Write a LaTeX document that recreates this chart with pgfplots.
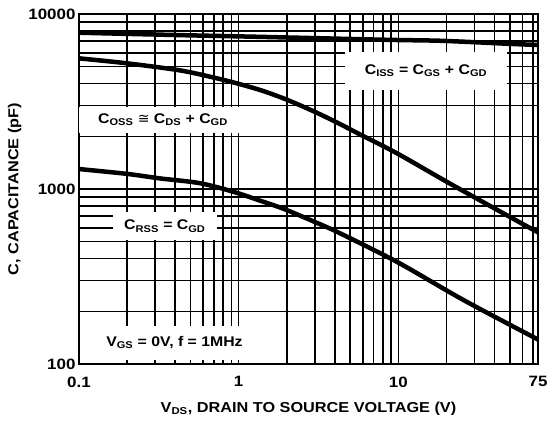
\documentclass[border=0pt]{standalone}
\usepackage{fontspec}
\setmainfont{Liberation Sans}[FakeStretch=1.13]
\newfontfamily\symfont{DejaVu Sans}
\usepackage{pgfplots}
\pgfplotsset{compat=1.18}
\newcommand{\lblfont}{\fontsize{14}{16}\selectfont\bfseries}
\newcommand{\tickfont}{\fontsize{15}{17}\selectfont\bfseries}
\newcommand{\axfont}{\fontsize{14.4}{16}\selectfont\bfseries}
\begin{document}
\begin{tikzpicture}
\begin{axis}[name=ax,
 xmode=log, ymode=log,
 scale only axis, width=459pt, height=350pt,
 xmin=0.1, xmax=75, ymin=100, ymax=10000,
 xtick={0.1,1,10,75}, xticklabels={0.1,1,10,75},
 ytick={100,1000,10000}, yticklabels={100,1000,10000},
 minor xtick={0.2,0.3,0.4,0.5,0.6,0.7,0.8,0.9,2,3,4,5,6,7,8,9,20,30,40,50,60,70},
 minor ytick={200,300,400,500,600,700,800,900,2000,3000,4000,5000,6000,7000,8000,9000},
 grid=both,
 major grid style={black, line width=1.6pt},
 minor grid style={black, line width=1.6pt},
 axis line style={black, line width=2pt},
 tick style={black, line width=1.6pt},
 major tick length=4pt, minor tick length=4pt,
 tick align=inside,
 ticklabel style={font=\tickfont},
 xticklabel style={yshift=-9pt},
 label style={font=\axfont},
 xlabel={V\textsubscript{DS}, DRAIN TO SOURCE VOLTAGE (V)},
 ylabel={C, CAPACITANCE (pF)},
 xlabel style={yshift=-8pt},
]
% C_ISS
\addplot[black, line width=4.5pt, smooth] coordinates {
 (0.1,7820) (0.2,7700) (0.5,7550) (1,7450) (1.8,7360) (5,7200) (10,7100) (17.5,7040) (30,6900) (50,6750) (75,6650)};
% C_OSS
\addplot[black, line width=4.5pt, smooth] coordinates {
 (0.1,5580) (0.2,5225) (0.43,4760) (0.7,4330) (0.97,4020) (1.4,3650) (2,3240) (3,2760) (4.2,2380) (5.7,2060) (9.8,1600) (20.1,1100) (40,775) (75,565)};
% C_RSS
\addplot[black, line width=4.5pt, smooth] coordinates {
 (0.1,1300) (0.2,1220) (0.32,1150) (0.57,1080) (0.92,966) (1.4,850) (2.0,758) (3.9,584) (5,523) (10.2,376) (25.6,232) (75,138)};
\node[fill=white, inner sep=0pt, minimum width=162pt, minimum height=38pt, font=\lblfont] at (rel axis cs:0.756,0.837) {C\textsubscript{ISS} = C\textsubscript{GS} + C\textsubscript{GD}};
\node[fill=white, inner sep=0pt, minimum width=168pt, minimum height=26pt, font=\lblfont] at (rel axis cs:0.183,0.697) {C\textsubscript{OSS} {\symfont\mdseries ≅} C\textsubscript{DS} + C\textsubscript{GD}};
\node[fill=white, inner sep=0pt, minimum width=104pt, minimum height=28pt, font=\lblfont] at (rel axis cs:0.187,0.394) {C\textsubscript{RSS} = C\textsubscript{GD}};
\node[fill=white, inner sep=0pt, minimum width=189pt, minimum height=34pt, font=\lblfont] at (rel axis cs:0.208,0.0614) {V\textsubscript{GS} = 0V, f = 1MHz};
\end{axis}
\path (ax.south west) ++(-79pt,-60pt) coordinate (bl);
\path (ax.north east) ++(15pt,14pt) coordinate (tr);
\end{tikzpicture}
\end{document}
